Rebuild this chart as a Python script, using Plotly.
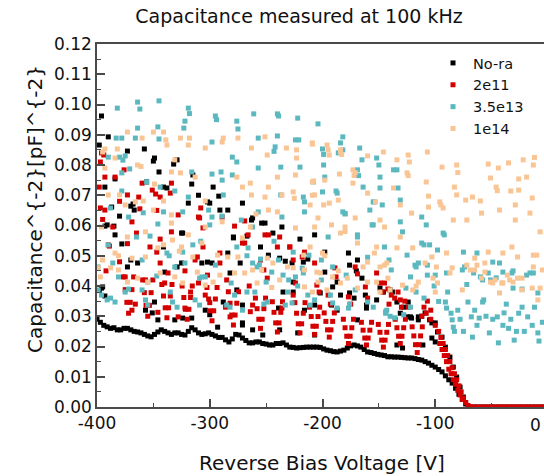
import plotly.graph_objects as go

# ---------------- data: bias voltage [V] and capacitance^-2 [pF^-2] ----------------
series_names = ["No-ra", "2e11", "3.5e13", "1e14"]
series_colors = ["#000000", "#D40000", "#5BB8BF", "#F9C595"]

x_tick_vals = [-400, -300, -200, -100]
x_tick_text = ["-400", "-300", "-200", "-100"]

# No-ra: dense lower curve
nora_base_v = [-400, -397, -394, -391, -388, -385, -382, -379, -376, -373,
               -370, -367, -364, -361, -358, -355, -352, -349, -346, -343,
               -340, -337, -334, -331, -328, -325, -322, -319, -316, -313,
               -310, -307, -304, -301, -298, -295, -292, -289, -286, -283,
               -280, -277, -274, -271, -268, -265, -262, -259, -256, -253,
               -250, -247, -244, -241, -238, -235, -232, -229, -226, -223,
               -220, -217, -214, -211, -208, -205, -202, -199, -196, -193,
               -190, -187, -184, -181, -178, -175, -172, -169, -166, -163,
               -160, -157, -154, -151, -148, -145, -142, -139, -136, -133,
               -130, -127, -124, -121, -118, -115, -112, -109, -106, -103,
               -100, -97, -94, -91, -88, -85, -82, -79, -76, -73, -70]
nora_base_c = [0.029, 0.028, 0.027, 0.0265, 0.026, 0.0262, 0.0255, 0.0255, 0.026, 0.026,
               0.0255, 0.025, 0.0248, 0.0245, 0.024, 0.0235, 0.0232, 0.024, 0.0248, 0.0255,
               0.025, 0.0245, 0.024, 0.0245, 0.0245, 0.024, 0.0238, 0.025, 0.0262, 0.0255,
               0.0245, 0.024, 0.0242, 0.0245, 0.024, 0.0235, 0.023, 0.023, 0.0222, 0.0215,
               0.0225, 0.024, 0.0238, 0.0228, 0.022, 0.0212, 0.0212, 0.0215, 0.0215, 0.021,
               0.0208, 0.0205, 0.0205, 0.021, 0.021, 0.0212, 0.0205, 0.0198, 0.0197, 0.0195,
               0.0196, 0.0197, 0.0198, 0.0198, 0.0198, 0.0198, 0.0197, 0.0192, 0.0188, 0.0186,
               0.0183, 0.0182, 0.0185, 0.0188, 0.0195, 0.0202, 0.0205, 0.0202, 0.0198, 0.019,
               0.0182, 0.018, 0.0177, 0.0174, 0.0172, 0.017, 0.0166, 0.0166, 0.0165, 0.0165,
               0.0164, 0.0163, 0.0162, 0.0162, 0.016, 0.0157, 0.0155, 0.015, 0.0145, 0.0138,
               0.0132, 0.0124, 0.0116, 0.0103, 0.009, 0.0079, 0.0062, 0.0042, 0.0025, 0.001, 0.0]
nora_zero_v = [-66, -62, -58, -54, -50, -46, -42, -38, -34, -30, -26, -22, -18, -14, -10, -6, -2]
nora_zero_c = [0.0, 0.0, 0.0, 0.0, 0.0, 0.0, 0.0, 0.0, 0.0, 0.0, 0.0, 0.0, 0.0, 0.0, 0.0, 0.0, 0.0]
nora_scat_v = [-396, -390, -398, -373, -358, -350, -349, -345, -329, -332,
               -384, -393, -356, -341, -338, -315, -316, -297, -370, -387,
               -367, -380, -391, -385, -378, -370, -324, -302, -291, -279,
               -271, -262, -254, -236, -220, -213, -302, -298, -329, -282,
               -238, -233, -226, -395, -398, -310, -292, -319, -300, -284,
               -251, -263, -368, -244, -207, -267, -255, -248, -227, -226,
               -217, -198, -177, -169, -176, -170, -165, -187, -198, -202,
               -184, -162, -146, -152, -161, -169, -187, -207, -216, -239,
               -235, -271, -262, -253, -271, -238, -222, -207, -393, -384,
               -364, -373, -325, -341, -325, -340, -307, -279, -284, -273,
               -276, -288, -396, -393, -349, -357, -351, -346, -324, -331,
               -316, -304, -300, -293, -271, -138, -134, -131, -125, -121,
               -115, -109, -105, -100, -98, -94, -91, -87, -84, -81,
               -78, -75, -134, -129, -111, -103, -100, -191, -192, -176,
               -172, -161, -149, -140, -128, -124, -122, -115, -112, -103]
nora_scat_c = [0.0962, 0.0893, 0.0866, 0.0846, 0.0853, 0.0813, 0.0823, 0.0777, 0.0817, 0.0803,
               0.0754, 0.0727, 0.0744, 0.0727, 0.0724, 0.0767, 0.0737, 0.0727, 0.0664, 0.0661,
               0.0651, 0.0631, 0.0602, 0.0598, 0.0539, 0.0486, 0.0575, 0.0678, 0.0651, 0.0562,
               0.0674, 0.0625, 0.0608, 0.0595, 0.0555, 0.0489, 0.0479, 0.0476, 0.0463, 0.0443,
               0.0492, 0.0482, 0.038, 0.0397, 0.0385, 0.070, 0.0697, 0.0674, 0.0674, 0.0651,
               0.0608, 0.0618, 0.0671, 0.0575, 0.0569, 0.0565, 0.0529, 0.0502, 0.0476, 0.0413,
               0.0479, 0.0512, 0.0509, 0.0486, 0.0469, 0.045, 0.0426, 0.0413, 0.0446, 0.0377,
               0.037, 0.037, 0.038, 0.0354, 0.0327, 0.0288, 0.032, 0.0337, 0.032, 0.0327,
               0.038, 0.0278, 0.0255, 0.0238, 0.0337, 0.0255, 0.0245, 0.0238, 0.0598, 0.0569,
               0.0476, 0.0463, 0.0575, 0.0529, 0.0476, 0.0446, 0.0476, 0.0559, 0.0509, 0.0476,
               0.0387, 0.0347, 0.0393, 0.0367, 0.0347, 0.032, 0.0311, 0.0288, 0.0294, 0.0288,
               0.0294, 0.032, 0.0305, 0.0264, 0.0271, 0.038, 0.0347, 0.031, 0.0298, 0.0294,
               0.0298, 0.0311, 0.0288, 0.0278, 0.0248, 0.0231, 0.0198, 0.0165, 0.0132, 0.0099,
               0.0066, 0.0033, 0.0205, 0.0195, 0.0205, 0.0228, 0.0215, 0.0397, 0.0337, 0.0377,
               0.036, 0.0337, 0.0393, 0.0387, 0.033, 0.0347, 0.0298, 0.0288, 0.030, 0.0278]

# 2e11: V-shaped dips
r2e11_dip_v = [-376.5, -375, -373.5, -372, -370.5, -369, -367.5,
               -359.5, -358, -356.5, -355, -353.5, -352, -350.5,
               -342.5, -341, -339.5, -338, -336.5, -335, -333.5,
               -324.5, -323, -321.5, -320, -318.5, -317, -315.5,
               -302.5, -301, -299.5, -298, -296.5, -295, -293.5,
               -283.5, -282, -280.5, -279, -277.5, -276, -274.5,
               -259.5, -258, -256.5, -255, -253.5, -252, -250.5,
               -244.5, -243, -241.5, -240, -238.5, -237, -235.5,
               -224.5, -223, -221.5, -220, -218.5, -217, -215.5,
               -211.5, -210, -208.5, -207, -205.5, -204, -202.5,
               -198.5, -197, -195.5, -194, -192.5, -191, -189.5,
               -181.5, -180, -178.5, -177, -175.5, -174, -172.5,
               -165.5, -164, -162.5, -161, -159.5, -158, -156.5,
               -150.5, -149, -147.5, -146, -144.5, -143, -141.5,
               -135.5, -134, -132.5, -131, -129.5, -128, -126.5,
               -120.5, -119, -117.5, -116, -114.5, -113, -111.5]
r2e11_dip_c = [0.043, 0.0388, 0.0346, 0.031, 0.0346, 0.0388, 0.043,
               0.042, 0.0378, 0.0336, 0.030, 0.0336, 0.0378, 0.042,
               0.0405, 0.0367, 0.0328, 0.0295, 0.0328, 0.0367, 0.0405,
               0.040, 0.0362, 0.0323, 0.029, 0.0323, 0.0362, 0.040,
               0.0395, 0.0357, 0.0318, 0.0285, 0.0318, 0.0357, 0.0395,
               0.0381, 0.0343, 0.0304, 0.0271, 0.0304, 0.0343, 0.0381,
               0.036, 0.0325, 0.029, 0.026, 0.029, 0.0325, 0.036,
               0.0348, 0.0313, 0.0278, 0.0248, 0.0278, 0.0313, 0.0348,
               0.0345, 0.031, 0.0275, 0.0245, 0.0275, 0.031, 0.0345,
               0.033, 0.0299, 0.0267, 0.024, 0.0267, 0.0299, 0.033,
               0.0311, 0.0283, 0.0255, 0.0231, 0.0255, 0.0283, 0.0311,
               0.029, 0.0262, 0.0234, 0.021, 0.0234, 0.0262, 0.029,
               0.028, 0.0254, 0.0228, 0.0205, 0.0228, 0.0254, 0.028,
               0.0273, 0.0247, 0.0221, 0.0198, 0.0221, 0.0247, 0.0273,
               0.029, 0.0262, 0.0234, 0.021, 0.0234, 0.0262, 0.029,
               0.0265, 0.0235, 0.0206, 0.018, 0.0206, 0.0235, 0.0265]
r2e11_mid_v = [-205, -203, -224, -226, -195, -193, -177, -175, -162, -160,
               -149, -147, -131, -130, -236, -262, -264, -249, -271, -251,
               -238, -229, -218, -207, -189, -188, -171, -169, -152, -145,
               -142, -139, -136, -133, -141, -127, -124, -110, -107, -104,
               -112, -108, -104, -100, -97, -95, -93, -91, -89, -87,
               -85, -83, -81, -79, -77, -75, -73, -71, -69, -96,
               -94, -92, -90, -88, -86, -84, -82, -80, -78, -76]
r2e11_mid_c = [0.0403, 0.038, 0.041, 0.037, 0.037, 0.034, 0.0364, 0.034, 0.0397, 0.036,
               0.041, 0.038, 0.0354, 0.033, 0.0327, 0.0337, 0.0315, 0.0426, 0.0542, 0.0569,
               0.0562, 0.0529, 0.0496, 0.0476, 0.046, 0.043, 0.0463, 0.044, 0.0443, 0.041,
               0.039, 0.037, 0.036, 0.038, 0.034, 0.035, 0.033, 0.033, 0.035, 0.032,
               0.030, 0.031, 0.029, 0.027, 0.025, 0.023, 0.021, 0.019, 0.017, 0.015,
               0.013, 0.011, 0.009, 0.007, 0.005, 0.003, 0.0015, 0.0005, 0.0, 0.021,
               0.019, 0.017, 0.015, 0.0125, 0.011, 0.009, 0.0075, 0.0055, 0.004, 0.0025]
r2e11_zero_v = [-68, -65, -62, -59, -56, -53, -50, -47, -44, -41,
                -38, -35, -32, -29, -26, -23, -20, -17, -14, -11,
                -8, -5, -2]
r2e11_zero_c = [0.0, 0.0, 0.0, 0.0, 0.0, 0.0, 0.0, 0.0, 0.0, 0.0,
                0.0, 0.0, 0.0, 0.0, 0.0, 0.0, 0.0, 0.0, 0.0, 0.0,
                0.0, 0.0, 0.0]
r2e11_scat_v = [-396, -397, -393, -398, -384, -397, -393, -360, -363, -351,
                -344, -334, -347, -369, -362, -386, -365, -373, -389, -353,
                -344, -334, -347, -344, -337, -328, -309, -306, -289, -278,
                -266, -269, -248, -229, -226, -306, -311, -313, -291, -291,
                -302, -255, -252, -240, -216, -394, -376, -373, -348, -335,
                -308, -310, -269, -390, -380, -369, -366, -346, -328, -322,
                -317, -304, -300, -282, -286, -392, -375, -357, -340, -322,
                -310, -285, -265, -395, -380]
r2e11_scat_c = [0.084, 0.081, 0.076, 0.0727, 0.076, 0.0658, 0.0651, 0.074, 0.0694, 0.0717,
                0.0694, 0.074, 0.065, 0.0612, 0.0655, 0.0595, 0.0575, 0.054, 0.0532, 0.0529,
                0.0555, 0.0579, 0.0512, 0.0476, 0.0443, 0.0635, 0.0625, 0.0592, 0.0628, 0.0598,
                0.0569, 0.0542, 0.0569, 0.0529, 0.0486, 0.0529, 0.0496, 0.0486, 0.0509, 0.0476,
                0.0436, 0.0486, 0.0453, 0.0529, 0.0512, 0.0833, 0.0784, 0.0701, 0.0704, 0.0707,
                0.0658, 0.0628, 0.0615, 0.0536, 0.048, 0.032, 0.034, 0.0313, 0.0298, 0.0327,
                0.038, 0.037, 0.0345, 0.0298, 0.033, 0.045, 0.043, 0.042, 0.041, 0.045,
                0.041, 0.042, 0.040, 0.062, 0.068]

# 3.5e13
c35e13_v = [-364, -345, -362, -382, -319, -318, -295, -294, -276, -275,
            -261, -240, -239, -222, -204, -364, -346, -323, -322, -383,
            -378, -366, -345, -298, -257, -240, -242, -243, -224, -221,
            -280, -276, -380, -375, -378, -316, -298, -290, -289, -280,
            -257, -237, -220, -208, -217, -216, -216, -237, -288, -324,
            -341, -359, -378, -298, -200, -199, -182, -184, -186, -182,
            -167, -165, -152, -150, -134, -137, -149, -169, -168, -199,
            -198, -200, -187, -188, -164, -149, -155, -147, -133, -182,
            -180, -131, -112, -180, -158, -154, -131, -156, -169, -129,
            -112, -110, -118, -93, -92, -75, -63, -98, -117, -107,
            -90, -76, -53, -43, -32, -16, -13, -9, -23, -31,
            -51, -108, -105, -100, -91, -90, -85, -84, -83, -80,
            -71, -68, -67, -65, -61, -58, -55, -52, -49, -45,
            -44, -39, -35, -33, -30, -26, -23, -21, -18, -14,
            -9, -8, -5, -89, -72, -58, -57, -66, -74, -49,
            -40, -31, -19, -46, -60, -86, -78, -63, -40, -28,
            -12, -37, -75, -266, -255, -256, -245, -235, -230, -231,
            -227, -233, -249, -252, -260, -267, -207, -213, -211, -193,
            -191, -187, -177, -176, -160, -155, -143, -144, -171, -195,
            -169, -155, -145, -217, -224, -258, -267, -396, -391, -388,
            -384, -399, -375, -372, -360, -357, -355, -355, -335, -333,
            -329, -331, -338, -336, -313, -309, -304, -307, -300, -285,
            -282, -278, -271, -365, -390, -399, -324, -315, -390, -377,
            -371, -356, -344, -331, -319, -301, -289, -272, -257, -236,
            -262, -346, -372, -388, -353, -308, -276, -243, -226, -212,
            -386, -360, -322, -295, -262, -239, -218, -201, -191, -381,
            -347, -309, -281, -250, -222, -201, -179, -139, -122, -126,
            -117, -110, -101, -97, -125, -141, -160, -144, -140, -136,
            -128, -122, -107, -115]
c35e13_c = [0.1008, 0.1012, 0.0985, 0.0988, 0.0988, 0.097, 0.0962, 0.095, 0.0945, 0.0919,
            0.0969, 0.0969, 0.0962, 0.0955, 0.0936, 0.0922, 0.0926, 0.0922, 0.0945, 0.0889,
            0.0889, 0.0889, 0.0886, 0.0876, 0.0889, 0.0896, 0.086, 0.0845, 0.0883, 0.0883,
            0.0826, 0.081, 0.0826, 0.083, 0.0774, 0.0777, 0.077, 0.0777, 0.075, 0.0767,
            0.079, 0.0793, 0.0793, 0.0744, 0.0694, 0.0678, 0.0645, 0.0701, 0.0701, 0.0645,
            0.0645, 0.0642, 0.0714, 0.0628, 0.0853, 0.0835, 0.0893, 0.0873, 0.084, 0.085,
            0.0856, 0.0817, 0.0823, 0.080, 0.0784, 0.0784, 0.076, 0.0784, 0.0765, 0.080,
            0.076, 0.0711, 0.0707, 0.0714, 0.0727, 0.0724, 0.0678, 0.0668, 0.0724, 0.0645,
            0.0638, 0.0612, 0.0628, 0.064, 0.0651, 0.0678, 0.0684, 0.0602, 0.0562, 0.0579,
            0.0542, 0.0536, 0.0469, 0.0575, 0.0569, 0.0512, 0.0509, 0.0519, 0.0463, 0.0469,
            0.0443, 0.0453, 0.0443, 0.0476, 0.0443, 0.0443, 0.0443, 0.0377, 0.039, 0.0393,
            0.042, 0.0602, 0.0536, 0.0436, 0.0347, 0.0327, 0.0288, 0.0264, 0.025, 0.032,
            0.0347, 0.0298, 0.0231, 0.032, 0.0294, 0.0347, 0.030, 0.0245, 0.029, 0.0298,
            0.0212, 0.0311, 0.026, 0.029, 0.0221, 0.031, 0.033, 0.025, 0.0298, 0.027,
            0.0245, 0.0218, 0.028, 0.038, 0.0405, 0.042, 0.0354, 0.0443, 0.0463, 0.0479,
            0.0446, 0.045, 0.0436, 0.0427, 0.043, 0.031, 0.029, 0.027, 0.027, 0.025,
            0.033, 0.034, 0.025, 0.0526, 0.0489, 0.047, 0.0446, 0.0436, 0.042, 0.038,
            0.0344, 0.0337, 0.0347, 0.034, 0.038, 0.038, 0.0354, 0.037, 0.0337, 0.037,
            0.0344, 0.0327, 0.0327, 0.034, 0.0347, 0.033, 0.032, 0.031, 0.0387, 0.0562,
            0.0569, 0.0602, 0.0529, 0.0443, 0.043, 0.0463, 0.050, 0.037, 0.0354, 0.036,
            0.0347, 0.0387, 0.038, 0.039, 0.0387, 0.0354, 0.0337, 0.0413, 0.038, 0.0347,
            0.033, 0.0463, 0.0509, 0.050, 0.0354, 0.0337, 0.043, 0.043, 0.0602, 0.0337,
            0.033, 0.037, 0.032, 0.0562, 0.0536, 0.0463, 0.0512, 0.0536, 0.0826, 0.0816,
            0.0787, 0.0744, 0.0727, 0.0714, 0.0694, 0.0651, 0.0631, 0.0618, 0.0645, 0.0628,
            0.0595, 0.0605, 0.0628, 0.0658, 0.0565, 0.0548, 0.0529, 0.0548, 0.0512, 0.0502,
            0.0476, 0.0486, 0.0476, 0.0469, 0.0476, 0.0486, 0.0459, 0.0486, 0.0463, 0.043,
            0.0433, 0.0426, 0.041, 0.0413, 0.040, 0.042, 0.0436, 0.0453, 0.043, 0.0393,
            0.038, 0.036, 0.040, 0.0349, 0.0502, 0.0486, 0.0495, 0.0315, 0.030, 0.0295,
            0.0305, 0.033, 0.0436, 0.0476]

# 1e14
p1e14_v = [-393, -382, -373, -350, -341, -339, -360, -326, -318, -338,
           -319, -304, -289, -288, -275, -263, -251, -249, -232, -223,
           -223, -209, -395, -384, -393, -364, -361, -331, -334, -326,
           -313, -276, -240, -271, -264, -248, -224, -208, -390, -380,
           -366, -359, -349, -341, -304, -263, -251, -236, -226, -225,
           -207, -375, -350, -334, -259, -248, -240, -196, -194, -184,
           -183, -160, -146, -134, -124, -123, -107, -94, -81, -80,
           -53, -44, -35, -22, -13, -12, -19, -26, -51, -46,
           -45, -33, -26, -14, -29, -16, -173, -171, -172, -173,
           -185, -160, -153, -137, -125, -124, -108, -106, -96, -95,
           -83, -81, -73, -67, -60, -84, -59, -199, -194, -131,
           -121, -106, -93, -72, -29, -43, -209, -195, -184, -209,
           -198, -211, -186, -209, -171, -192, -180, -207, -204, -145,
           -149, -169, -152, -134, -131, -120, -103, -90, -99, -85,
           -72, -65, -56, -49, -40, -34, -23, -13, -43, -10,
           -7, -27, -109, -143, -164, -160, -149, -140, -129, -115,
           -184, -216, -202, -191, -209, -145, -142, -120, -117, -102,
           -100, -98, -76, -69, -63, -56, -59, -51, -47, -41,
           -36, -31, -27, -23, -14, -7, -9, -5, -13, -40,
           -32, -53, -65, -87, -397, -399, -395, -384, -381, -369,
           -357, -346, -341, -333, -325, -327, -319, -307, -315, -293,
           -284, -275, -278, -291, -297, -304, -311, -324, -331, -344,
           -355, -364, -373, -381, -388, -396, -357, -334, -304, -289,
           -373, -264, -224, -211, -217, -200, -198, -184, -180, -154,
           -149, -160, -169, -178, -205, -204, -216, -226, -231, -244,
           -249, -254, -262, -269, -271, -196, -152, -186, -238, -258,
           -245]
p1e14_c = [0.0853, 0.0853, 0.0909, 0.0909, 0.0909, 0.0883, 0.0889, 0.0889, 0.0889, 0.0866,
           0.0866, 0.0856, 0.0876, 0.0889, 0.0889, 0.0856, 0.0893, 0.0833, 0.0856, 0.085,
           0.0823, 0.0869, 0.0843, 0.0823, 0.079, 0.080, 0.0795, 0.0817, 0.0777, 0.0774,
           0.076, 0.076, 0.076, 0.0727, 0.074, 0.0727, 0.0767, 0.0747, 0.0701, 0.0701,
           0.0678, 0.0681, 0.0737, 0.0681, 0.0681, 0.0701, 0.0694, 0.0701, 0.0711, 0.069,
           0.0701, 0.0668, 0.0651, 0.0635, 0.0638, 0.0651, 0.0645, 0.0866, 0.0833, 0.085,
           0.0835, 0.083, 0.0843, 0.0817, 0.0833, 0.081, 0.0843, 0.0793, 0.080, 0.0775,
           0.0803, 0.079, 0.0807, 0.0817, 0.080, 0.0825, 0.076, 0.0754, 0.0757, 0.0727,
           0.0715, 0.0714, 0.0717, 0.0691, 0.0668, 0.0641, 0.0784, 0.0775, 0.0765, 0.074,
           0.077, 0.0707, 0.0678, 0.0724, 0.0774, 0.0765, 0.0744, 0.0697, 0.0678, 0.0668,
           0.0727, 0.0701, 0.0684, 0.0694, 0.0681, 0.0618, 0.0641, 0.0668, 0.0674, 0.0668,
           0.0641, 0.0661, 0.0658, 0.0618, 0.0618, 0.0651, 0.0873, 0.085, 0.0843, 0.0744,
           0.075, 0.0668, 0.0684, 0.070, 0.0625, 0.0602, 0.0595, 0.0595, 0.0625, 0.0595,
           0.0618, 0.0542, 0.0529, 0.0526, 0.0562, 0.0526, 0.0496, 0.0509, 0.0463, 0.046,
           0.0469, 0.0453, 0.0446, 0.041, 0.041, 0.042, 0.0426, 0.0463, 0.0377, 0.0502,
           0.0579, 0.0496, 0.0476, 0.0476, 0.0463, 0.0413, 0.038, 0.0387, 0.0403, 0.0413,
           0.041, 0.0453, 0.0443, 0.043, 0.038, 0.0469, 0.0426, 0.0387, 0.040, 0.0426,
           0.038, 0.041, 0.0387, 0.0453, 0.0469, 0.0476, 0.0426, 0.0413, 0.042, 0.041,
           0.0436, 0.0413, 0.0426, 0.0387, 0.0393, 0.0393, 0.0354, 0.0453, 0.0502, 0.0509,
           0.0529, 0.0512, 0.0492, 0.0443, 0.043, 0.046, 0.0486, 0.0509, 0.050, 0.0492,
           0.0496, 0.0526, 0.0536, 0.0552, 0.0529, 0.0515, 0.0569, 0.0542, 0.0496, 0.0502,
           0.0496, 0.0496, 0.0443, 0.0436, 0.0413, 0.0403, 0.0446, 0.041, 0.043, 0.0443,
           0.0413, 0.0426, 0.0413, 0.0453, 0.046, 0.0595, 0.0579, 0.0608, 0.0595, 0.0612,
           0.0562, 0.0595, 0.0592, 0.0529, 0.0502, 0.0509, 0.050, 0.0575, 0.058, 0.0509,
           0.0463, 0.0479, 0.0393, 0.0426, 0.0446, 0.0413, 0.0397, 0.046, 0.0463, 0.0476,
           0.0492, 0.0453, 0.0453, 0.0443, 0.0559, 0.0387, 0.0413, 0.045, 0.042, 0.041,
           0.0395]

assert len(nora_base_v) == len(nora_base_c)
assert len(nora_zero_v) == len(nora_zero_c)
assert len(nora_scat_v) == len(nora_scat_c)
assert len(r2e11_dip_v) == len(r2e11_dip_c)
assert len(r2e11_mid_v) == len(r2e11_mid_c)
assert len(r2e11_zero_v) == len(r2e11_zero_c)
assert len(r2e11_scat_v) == len(r2e11_scat_c)
assert len(c35e13_v) == len(c35e13_c)
assert len(p1e14_v) == len(p1e14_c)

series_x = [
    nora_base_v + nora_zero_v + nora_scat_v,
    r2e11_dip_v + r2e11_mid_v + r2e11_zero_v + r2e11_scat_v,
    c35e13_v,
    p1e14_v,
]
series_y = [
    nora_base_c + nora_zero_c + nora_scat_c,
    r2e11_dip_c + r2e11_mid_c + r2e11_zero_c + r2e11_scat_c,
    c35e13_c,
    p1e14_c,
]

# ---------------- figure ----------------
FONT = "DejaVu Sans"
AX = "#4a4a4a"

fig = go.Figure()
for name, xs, ys, col in zip(series_names, series_x, series_y, series_colors):
    fig.add_trace(go.Scatter(
        x=xs, y=ys, mode="markers", name=name,
        marker=dict(symbol="square", size=5, color=col, line=dict(width=0)),
    ))

W, H = 544, 476
L, R, T, B = 97, 0, 44, 69
pw, ph = W - L - R, H - T - B

def px_x(p):
    return (p - L) / pw

def px_y(p):
    return (H - B - p) / ph

fig.update_layout(
    width=W, height=H,
    margin=dict(l=L, r=R, t=T, b=B, pad=0),
    paper_bgcolor="white", plot_bgcolor="white",
    font=dict(family=FONT, color="#111111", size=16),
    title=dict(text="Capacitance measured at 100 kHz", xref="container", x=299 / W,
               xanchor="center", yref="container", y=1 - 16 / H, yanchor="middle",
               font=dict(size=19, family=FONT, color="#111111")),
    legend=dict(x=px_x(433), y=px_y(47), xanchor="left", yanchor="top",
                bgcolor="rgba(0,0,0,0)", font=dict(size=14.5, family=FONT),
                tracegroupgap=0),
    showlegend=True,
)

fig.update_xaxes(
    range=[-400, -400 + (W - L) / 1.1275],
    tickvals=x_tick_vals, ticktext=x_tick_text,
    ticks="inside", ticklen=8, tickwidth=1.5, tickcolor=AX,
    showline=True, linecolor=AX, linewidth=1.5, mirror=True,
    showgrid=False, zeroline=False,
    tickfont=dict(size=17, family=FONT, color="#111111"),
    minor=dict(ticks="inside", ticklen=4, tickwidth=1.2, tickcolor=AX, dtick=50, tick0=0),
)
fig.update_yaxes(
    range=[0, 0.12], dtick=0.01, tick0=0, tickformat=".2f",
    ticks="inside", ticklen=8, tickwidth=1.5, tickcolor=AX,
    showline=True, linecolor=AX, linewidth=1.5, mirror=False,
    showgrid=False, zeroline=False,
    tickfont=dict(size=17, family=FONT, color="#111111"),
    minor=dict(ticks="inside", ticklen=4, tickwidth=1.2, tickcolor=AX, dtick=0.005, tick0=0),
)

fig.add_annotation(text="Reverse Bias Voltage [V]", xref="paper", yref="paper",
                   x=px_x(322), y=px_y(463), xanchor="center", yanchor="middle",
                   showarrow=False, font=dict(size=20, family=FONT, color="#111111"))
fig.add_annotation(text="Capacitance^{-2}[pF]^{-2}", xref="paper", yref="paper",
                   x=px_x(35), y=px_y(209), xanchor="center", yanchor="middle",
                   textangle=-90, showarrow=False,
                   font=dict(size=20, family=FONT, color="#111111"))
# the "0" tick label at the right edge (kept fully inside the picture)
fig.add_annotation(text="0", xref="paper", yref="paper",
                   x=px_x(543), y=px_y(425), xanchor="right", yanchor="middle",
                   showarrow=False, font=dict(size=17, family=FONT, color="#111111"))

fig.write_html("out.html")
